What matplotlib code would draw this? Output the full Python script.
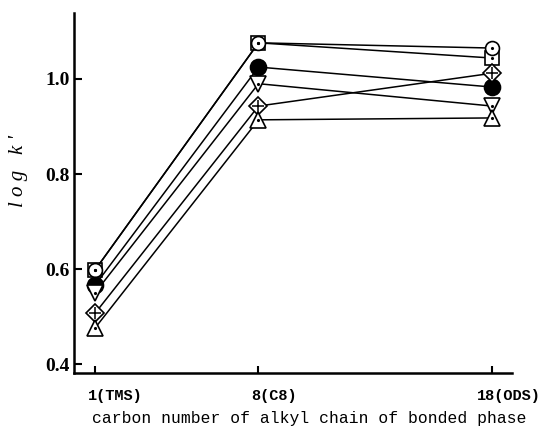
import matplotlib
matplotlib.use('Agg')
import matplotlib.pyplot as plt
import matplotlib.transforms as mtransforms

# carbon number of the bonded phase (TMS, C8, ODS)
carbon = [1, 8, 18]
xticklabels = ['1(TMS)', '8(C8)', '18(ODS)']

# log k' for each solute
circle_dot = [0.598, 1.076, 1.065]
square_dot = [0.598, 1.076, 1.044]
filled_circle = [0.566, 1.025, 0.983]
tri_down = [0.550, 0.990, 0.943]
diamond_plus = [0.507, 0.943, 1.012]
tri_up = [0.476, 0.914, 0.918]

defaultDpi = 100
fig = plt.figure(figsize=(544/defaultDpi, 429/defaultDpi), dpi=defaultDpi)
ax = fig.add_axes([0.136, 0.130, 0.805, 0.840])

lw = 1.1
ms = 10
mono = 'Liberation Mono'
fs = 11.8
tfs = 11

def series(y, marker, face='white', size=ms, dot=True, extra=None):
    ax.plot(carbon, y, color='black', lw=lw, marker=marker, markersize=size,
            markerfacecolor=face, markeredgecolor='black', markeredgewidth=1.2,
            zorder=3)
    if extra:
        ax.plot(carbon, y, ls='none', marker=extra, markersize=size * 0.9,
                markeredgecolor='black', markeredgewidth=1.1, zorder=4)
    if dot:
        ax.plot(carbon, y, ls='none', marker='.', markersize=2.5,
                color='black', zorder=5)

series(square_dot, 's', size=10.5)
series(circle_dot, 'o', size=10)
series(filled_circle, 'o', face='black', size=11.5, dot=False)
series(tri_down, 'v', size=11.5)
series(diamond_plus, 'D', size=9, dot=False, extra='+')
series(tri_up, '^', size=11.5)

ax.set_xlim(0.1, 18.85)
ax.set_ylim(0.381, 1.139)
ax.set_xticks(carbon)
ax.set_xticklabels([])
# the number part of each label sits roughly under its tick
for c, lab in zip(carbon, xticklabels):
    ndig = len(lab.split('(')[0])
    off = mtransforms.ScaledTranslation(-5.3 * ndig / 72, 0, fig.dpi_scale_trans)
    ax.text(c, -0.045, lab, transform=ax.get_xaxis_transform() + off,
            ha='left', va='top', fontfamily=mono, fontsize=tfs, fontweight='bold')

ax.set_yticks([0.4, 0.6, 0.8, 1.0])
ax.set_yticklabels(['0.4', '0.6', '0.8', '1.0'], fontfamily='Liberation Serif',
                   fontsize=14, fontweight='bold')

for s in ['top', 'right']:
    ax.spines[s].set_visible(False)
ax.spines['left'].set_linewidth(1.8)
ax.spines['bottom'].set_linewidth(1.8)
ax.tick_params(axis='y', direction='in', length=6, width=1.5, pad=3)
ax.tick_params(axis='x', direction='in', length=5, width=1.5, pad=6)

ax.set_xlabel('carbon number of alkyl chain of bonded phase',
              fontfamily=mono, fontsize=fs)
ax.xaxis.set_label_coords(0.537, -0.105)
ax.set_ylabel("l o g   k '", fontfamily='Liberation Serif', fontstyle='italic',
              fontsize=15)
ax.yaxis.set_label_coords(-0.105, 0.56)

fig.savefig('out.png', dpi=defaultDpi)
